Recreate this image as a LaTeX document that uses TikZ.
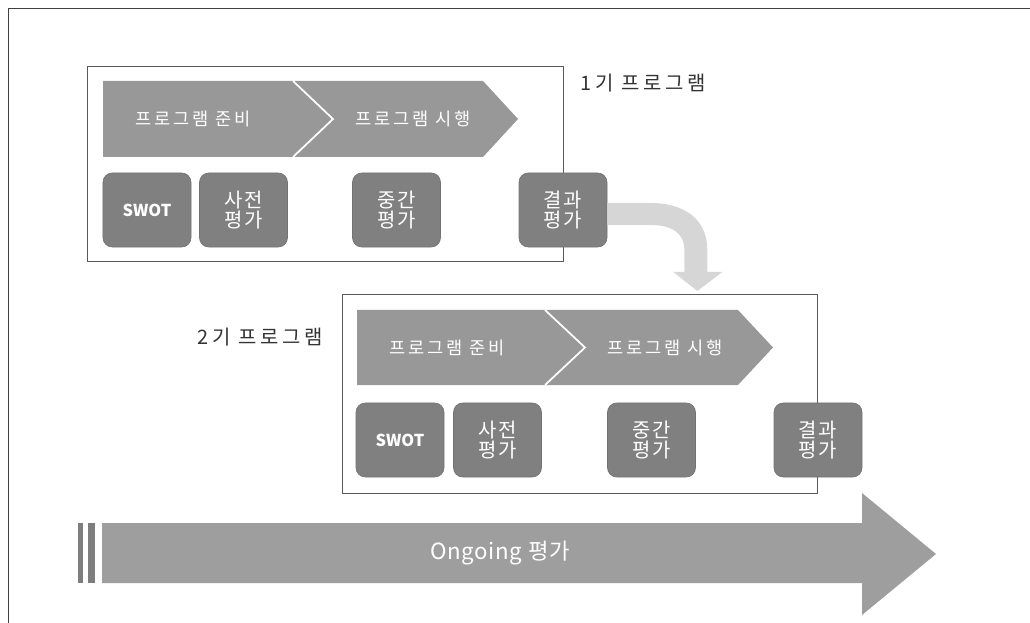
\documentclass[tikz,border=0pt]{standalone}
\usepackage{fontspec}
\setmainfont{Noto Sans CJK KR}
\definecolor{bandgray}{RGB}{152,152,152}
\definecolor{boxgray}{RGB}{128,128,128}
\definecolor{ongoinggray}{RGB}{158,158,158}
\definecolor{turngray}{RGB}{214,214,214}

\begin{document}
\begin{tikzpicture}[x=0.03cm, y=-0.03cm,
		frame/.style={draw=black!65, line width=0.5pt},
		band/.style={fill=bandgray},
		bandtext/.style={text=white, font=\fontsize{15}{18}\selectfont\addfontfeature{LetterSpace=16}},
		evalbox/.style={draw=black!55, line width=0.6pt, fill=boxgray, rounded corners=8pt,
			minimum width=2.64cm, minimum height=2.22cm, inner sep=0pt, align=center,
			text=white, font=\fontsize{17}{17}\selectfont\addfontfeature{LetterSpace=8}},
		swotbox/.style={evalbox, font=\fontsize{14}{16}\selectfont\bfseries},
		gentext/.style={text=black!80, font=\fontsize{17}{18}\selectfont\addfontfeature{LetterSpace=18}}]
	\useasboundingbox (0,0) rectangle (1030,623);

	% page frame (cut off at right and bottom)
	\draw[black!75, line width=0.8pt] (8,623) -- (8,8) -- (1030,8);

	% program frames
	\draw[frame] (87,66) rectangle (563,261);
	\draw[frame] (342,294) rectangle (817,493);

	\node[gentext] (lab1) at (643,83) {1기 프로그램};
	\node[gentext] (lab2) at (260,337) {2기 프로그램};

	% chevrons, 1st program
	\fill[band] (103,81) -- (293,81) -- (333,119) -- (293,157) -- (103,157) -- cycle;
	\fill[band] (293,81) -- (483,81) -- (518,119) -- (483,157) -- (293,157) -- (333,119) -- cycle;
	\draw[white, line width=1.5pt] (293,81) -- (333,119) -- (293,157);
	\node[bandtext] (prep1) at (193,119) {프로그램 준비};
	\node[bandtext] (run1) at (413,119) {프로그램 시행};

	% chevrons, 2nd program
	\fill[band] (357,310) -- (545,310) -- (585,347.5) -- (545,385) -- (357,385) -- cycle;
	\fill[band] (545,310) -- (738,310) -- (773,347.5) -- (738,385) -- (545,385) -- (585,347.5) -- cycle;
	\draw[white, line width=1.5pt] (545,310) -- (585,347.5) -- (545,385);
	\node[bandtext] (prep2) at (447,348) {프로그램 준비};
	\node[bandtext] (run2) at (665,348) {프로그램 시행};

	% evaluation boxes
	\node[swotbox] (r1a) at (147,210) {SWOT};
	\node[evalbox] (r1b) at (243.5,210) {사전\\평가};
	\node[evalbox] (r1c) at (396.5,210) {중간\\평가};
	\node[evalbox] (r1d) at (563,210) {결과\\평가};

	\node[swotbox] (r2a) at (400,440) {SWOT};
	\node[evalbox] (r2b) at (497.5,440) {사전\\평가};
	\node[evalbox] (r2c) at (651.5,440) {중간\\평가};
	\node[evalbox] (r2d) at (818,440) {결과\\평가};

	% turn arrow from 1st to 2nd program
	\fill[turngray, shift={(r1d.east)}] (0,-7) -- (43,-7)
		.. controls (78,-7) and (100,10) .. (100,40) -- (100,62) -- (115,62)
		-- (90,81) -- (66,62) -- (77,62) -- (77,40)
		.. controls (77,22) and (63,15) .. (43,15) -- (0,15) -- cycle;

	% ongoing evaluation arrow
	\fill[ongoinggray] (102,523) -- (862,523) -- (862,493) -- (936,554)
		-- (862,615) -- (862,583) -- (102,583) -- cycle;
	\fill[ongoinggray!80!black] (78,523) rectangle (83,583);
	\fill[ongoinggray!80!black] (88,523) rectangle (95,583);
	\node[text=white, font=\fontsize{19}{20}\selectfont\addfontfeature{LetterSpace=3}] (ongoing) at (500,553) {Ongoing 평가};
\end{tikzpicture}
\end{document}
